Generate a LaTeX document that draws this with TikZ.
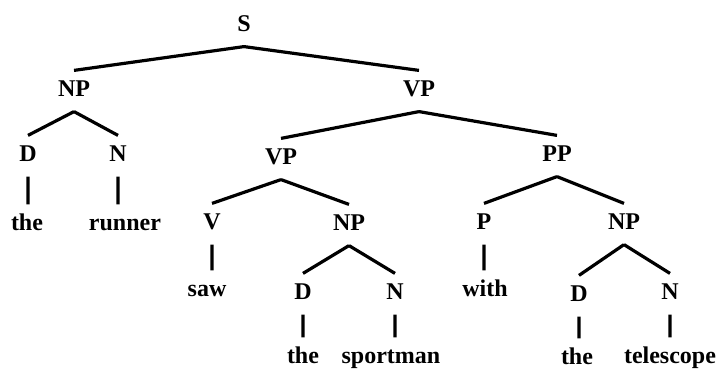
\documentclass[tikz,border=0pt]{standalone}
\usepackage{fontspec}
\setmainfont{Liberation Serif}

\begin{document}
\begin{tikzpicture}[x=0.5pt,y=-0.5pt,line width=1.6pt,
    every node/.style={font=\fontsize{12}{14}\selectfont\bfseries,inner sep=2.5pt,text height=10pt,text depth=4pt,anchor=base}]
    \useasboundingbox (0,0) rectangle (720,369);
%
    \path
    (244,32) node (s) {S}
    (74,97) node (np) {NP}
    (419,97) node (vp) {VP}
    (28,162) node (d) {D}
    (118,162) node (n) {N}
    (281,165) node (vpb) {VP}
    (557,162) node (pp) {PP}
    (212,230) node (v) {V}
    (349,231) node (npb) {NP}
    (484,230) node (p) {P}
    (624,230) node (npc) {NP}
    (303,300) node (db) {D}
    (395,300) node (nb) {N}
    (579,302) node (dc) {D}
    (670,300) node (nc) {N}
%
    (27,231) node (the) {the}
    (125,231) node (runner) {runner}
    (207,297) node (saw) {saw}
    (485,297) node (with) {with}
    (303,364) node (theb) {the}
    (391,364) node (sportman) {sportman}
    (577,365) node (thec) {the}
    (670,364) node (telescope) {telescope}
    ;
%
    \draw
    (s.south) -- (np.north)
    (s.south) -- (vp.north)
    (np.south) -- (d.north)
    (np.south) -- (n.north)
    (vp.south) -- (vpb.north)
    (vp.south) -- (pp.north)
    (vpb.south) -- (v.north)
    (vpb.south) -- (npb.north)
    (pp.south) -- (p.north)
    (pp.south) -- (npc.north)
    (npb.south) -- (db.north)
    (npb.south) -- (nb.north)
    (npc.south) -- (dc.north)
    (npc.south) -- (nc.north)
%
    (d.south) -- (d.south |- the.north)
    (n.south) -- (n.south |- runner.north)
    (v.south) -- (v.south |- saw.north)
    (p.south) -- (p.south |- with.north)
    (db.south) -- (db.south |- theb.north)
    (nb.south) -- (nb.south |- sportman.north)
    (dc.south) -- (dc.south |- thec.north)
    (nc.south) -- (nc.south |- telescope.north)
    ;
\end{tikzpicture}
\end{document}
